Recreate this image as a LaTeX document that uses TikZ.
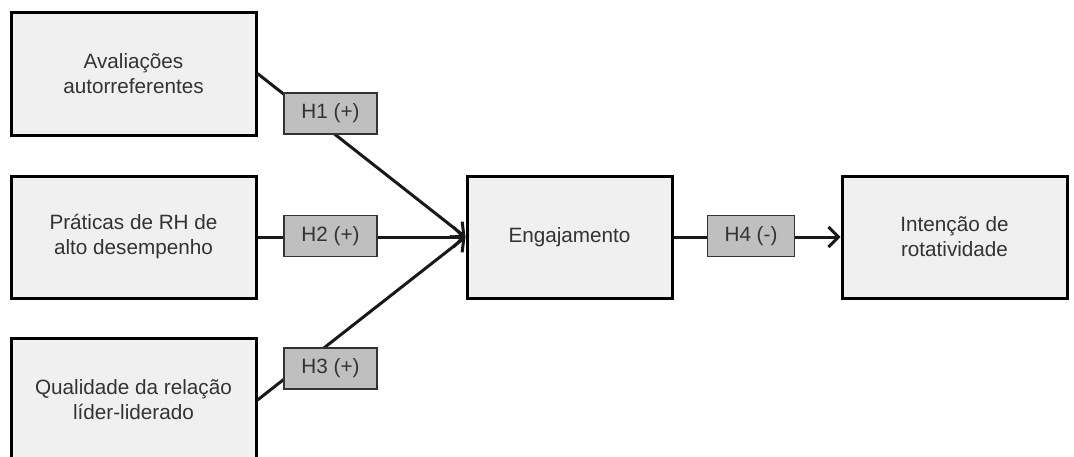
\documentclass[tikz,border=0pt]{standalone}
\usepackage{fontspec}
\setmainfont{Liberation Sans}
\usetikzlibrary{arrows.meta}
\definecolor{boxfill}{HTML}{F0F0F0}
\definecolor{labfill}{HTML}{BFBFBF}
\definecolor{txt}{HTML}{333333}
\tikzset{
  bigbox/.style={draw=black, line width=3pt, fill=boxfill, minimum height=122pt,
    align=center, text=txt, font=\fontsize{20.7pt}{25pt}\selectfont, inner sep=0pt},
  labbox/.style={draw=black!80, line width=1.2pt, fill=labfill, minimum width=93pt,
    minimum height=41pt, text=txt, font=\fontsize{20.7pt}{25pt}\selectfont, inner sep=0pt},
  conn/.style={line width=3pt, draw=black!90},
  arr/.style={conn, -{Straight Barb[length=10pt,width=20pt,line width=3pt]}}
}
\begin{document}
\begin{tikzpicture}[x=1pt,y=-1pt]
\useasboundingbox (0,0) rectangle (1074,456);
\node[bigbox, minimum width=245pt, minimum height=123pt] (a) at (133.5,73.5) {Avaliações\\autorreferentes};
\node[bigbox, minimum width=245pt] (b) at (133.5,237) {Práticas de RH de\\alto desempenho};
\node[bigbox, minimum width=245pt, minimum height=124pt] (c) at (133.5,400) {Qualidade da relação\\líder-liderado};
\node[bigbox, minimum width=205pt] (e) at (569.5,237) {Engajamento};
\node[bigbox, minimum width=225pt] (f) at (954.5,237) {Intenção de\\rotatividade};
\draw[arr] (a.east) -- (e.west);
\draw[arr] (b.east) -- (e.west);
\draw[arr] (c.east) -- (e.west);
\draw[arr] (e.east) -- (f.west);
\node[labbox] (h1) at (330.5,113.5) {H1 (+)};
\node[labbox] (h2) at (330.5,236) {H2 (+)};
\node[labbox] (h3) at (330.5,368.5) {H3 (+)};
\node[labbox, minimum width=87pt] (h4) at (751,236) {H4 (-)};
\end{tikzpicture}
\end{document}
